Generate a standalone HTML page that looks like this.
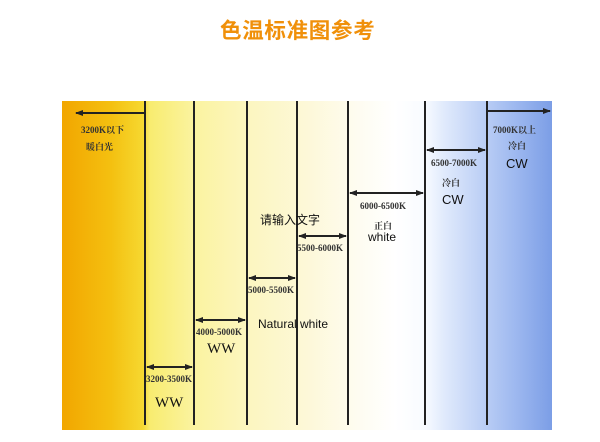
<!DOCTYPE html><html><head><meta charset="utf-8"><style>
body{margin:0;width:600px;height:442px;background:#fff;position:relative;overflow:hidden;font-family:"Liberation Serif","Noto Serif CJK SC",serif}
.t{position:absolute;white-space:nowrap}
.s{font-size:9px;color:#333;font-weight:bold}
.a{font-family:"Liberation Sans","Noto Sans CJK SC",sans-serif;font-size:12px;color:#111}
.w{font-size:15px;color:#111}
</style></head><body>
<div class="t" style="left:220px;top:14px;font-size:21.5px;font-weight:bold;color:#f0900a;font-family:'Noto Sans CJK SC',sans-serif;letter-spacing:0.7px">色温标准图参考</div>
<div style="position:absolute;left:62px;top:101px;width:490px;height:329px;background:linear-gradient(90deg,#f2a600 0%,#f4c010 10%,#f6d830 16.5%,#f8ec70 18%,#fbf3a0 27%,#fcf6c0 38%,#fdf8d8 50%,#fefcf0 60%,#ffffff 68%,#f8fbff 74%,#e0eafc 78%,#c0d2f6 85%,#a0baf0 92%,#7c9ee6 100%)"></div>
<svg style="position:absolute;left:0;top:0" width="600" height="442">
<defs><marker id="h" markerWidth="8" markerHeight="8" refX="7" refY="4" orient="auto-start-reverse" markerUnits="userSpaceOnUse"><path d="M0,1 L8,4 L0,7z" fill="#222"/></marker></defs>
<g stroke="#222" stroke-width="2">
<line x1="145" y1="101" x2="145" y2="425"/><line x1="194" y1="101" x2="194" y2="425"/><line x1="247" y1="101" x2="247" y2="425"/><line x1="297" y1="101" x2="297" y2="425"/><line x1="348" y1="101" x2="348" y2="425"/><line x1="425" y1="101" x2="425" y2="425"/><line x1="487" y1="101" x2="487" y2="425"/>
</g>
<g stroke="#222" stroke-width="2">
<line x1="145" y1="113" x2="76" y2="113" marker-end="url(#h)"/>
<line x1="487" y1="111" x2="550" y2="111" marker-end="url(#h)"/>
<line x1="427" y1="150" x2="485" y2="150" marker-start="url(#h)" marker-end="url(#h)"/>
<line x1="350" y1="193" x2="423" y2="193" marker-start="url(#h)" marker-end="url(#h)"/>
<line x1="299" y1="236" x2="346" y2="236" marker-start="url(#h)" marker-end="url(#h)"/>
<line x1="249" y1="278" x2="295" y2="278" marker-start="url(#h)" marker-end="url(#h)"/>
<line x1="196" y1="320" x2="245" y2="320" marker-start="url(#h)" marker-end="url(#h)"/>
<line x1="147" y1="367" x2="192" y2="367" marker-start="url(#h)" marker-end="url(#h)"/>
</g></svg>
<div class="t s" style="left:81px;top:123px">3200K以下</div>
<div class="t s" style="left:86px;top:140px">暖白光</div>
<div class="t s" style="left:493px;top:123px">7000K以上</div>
<div class="t s" style="left:508px;top:139px">冷白</div>
<div class="t a" style="left:506px;top:156px;font-size:13px">CW</div>
<div class="t s" style="left:431px;top:158px">6500-7000K</div>
<div class="t s" style="left:442px;top:176px">冷白</div>
<div class="t a" style="left:442px;top:192px;font-size:13px">CW</div>
<div class="t s" style="left:360px;top:201px">6000-6500K</div>
<div class="t s" style="left:374px;top:219px">正白</div>
<div class="t a" style="left:368px;top:230px">white</div>
<div class="t a" style="left:260px;top:211px">请输入文字</div>
<div class="t s" style="left:297px;top:243px">5500-6000K</div>
<div class="t s" style="left:248px;top:285px">5000-5500K</div>
<div class="t a" style="left:258px;top:317px">Natural white</div>
<div class="t s" style="left:196px;top:327px">4000-5000K</div>
<div class="t w" style="left:207px;top:341px">WW</div>
<div class="t s" style="left:146px;top:374px">3200-3500K</div>
<div class="t w" style="left:155px;top:395px">WW</div>
</body></html>
